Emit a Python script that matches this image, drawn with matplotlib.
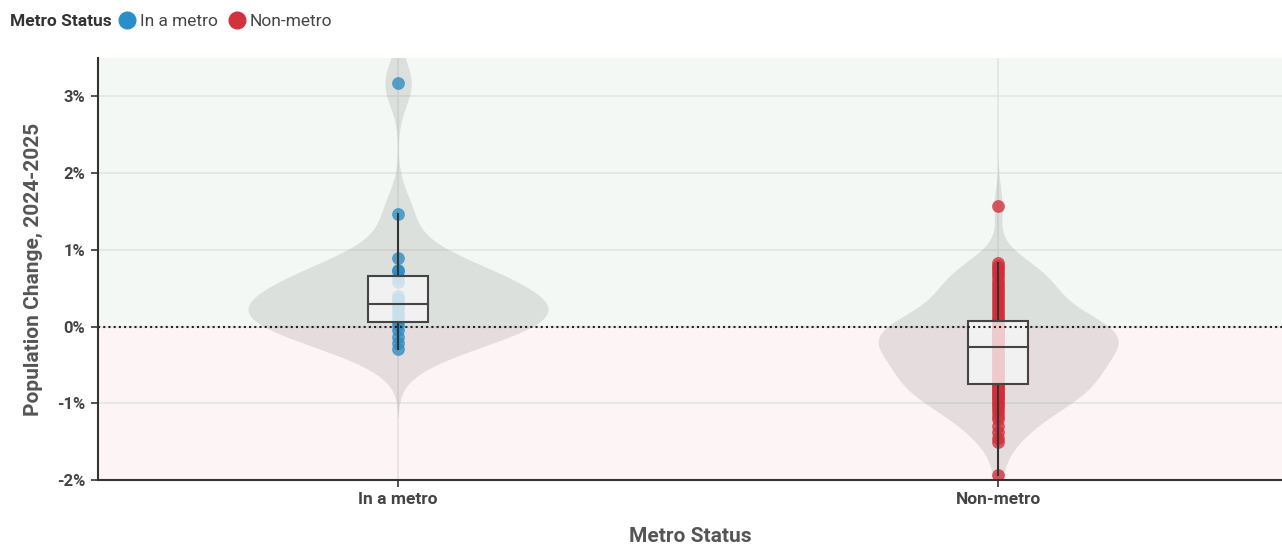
import numpy as np
import matplotlib.pyplot as plt
from matplotlib.lines import Line2D

plt.rcParams['font.family'] = ['Roboto', 'DejaVu Sans']

# county population change 2024-2025 (%), by metro status
categories = ['In a metro', 'Non-metro']
metro = [3.17, 1.47, 0.89, 0.74, 0.72, 0.64, 0.58, 0.40, 0.36, 0.33,
         0.27, 0.24, 0.18, 0.12, 0.07, 0.02, -0.05, -0.13, -0.22, -0.29]
nonmetro = [1.57, 0.83, 0.79, 0.76, 0.72, 0.68, 0.64, 0.60, 0.56, 0.52,
            0.48, 0.44, 0.40, 0.36, 0.32, 0.28, 0.24, 0.20, 0.16, 0.12,
            0.09, 0.07, 0.05, 0.04, 0.02, 0.00, -0.01, -0.03, -0.04, -0.06,
            -0.08, -0.09, -0.11, -0.12, -0.14, -0.16, -0.17, -0.19, -0.20, -0.22,
            -0.24, -0.25, -0.28, -0.30, -0.32, -0.35, -0.37, -0.39, -0.41, -0.44,
            -0.46, -0.48, -0.50, -0.53, -0.55, -0.57, -0.59, -0.62, -0.64, -0.66,
            -0.68, -0.71, -0.74, -0.76, -0.78, -0.80, -0.83, -0.85, -0.87, -0.90,
            -0.92, -0.95, -0.98, -1.01, -1.04, -1.08, -1.12, -1.16, -1.21, -1.30,
            -1.38, -1.45, -1.51, -1.94]
yticks = [-2, -1, 0, 1, 2, 3]

groups = [metro, nonmetro]
colors = ['#2b8cc4', '#d42d37']
bws = [0.3, 0.24]
half_widths = [0.25, 0.2]

fig = plt.figure(figsize=(12.82, 5.46), dpi=100)
ax = fig.add_axes([98 / 1282, 66 / 546, 1 - 98 / 1282, 422 / 546])
ax.set_xlim(-0.5, 1.473)
ax.set_ylim(-2, 3.5)

# green above zero, pink below
ax.axhspan(0, 3.5, color='#f3f8f4', zorder=0)
ax.axhspan(-2, 0, color='#fdf4f5', zorder=0)
for t in yticks:
    ax.axhline(t, color='#e3e6e3', lw=1.2, zorder=1)
for i in range(len(categories)):
    ax.axvline(i, color='#e3e3e3', lw=1.2, zorder=1)

for i, (vals, c, bw, hw) in enumerate(zip(groups, colors, bws, half_widths)):
    v = np.array(vals)
    # gaussian kde for the violin
    ys = np.linspace(v.min() - 3 * bw, v.max() + 3 * bw, 400)
    dens = np.exp(-0.5 * ((ys[:, None] - v[None, :]) / bw) ** 2).sum(axis=1)
    dens = dens / dens.max() * hw
    ax.fill_betweenx(ys, i - dens, i + dens, color='#808080', alpha=0.2, lw=0, zorder=2)

    ax.scatter(np.full(len(v), i), v, s=85, color=c, alpha=0.78, lw=0, zorder=3)

    q1, med, q3 = np.percentile(v, [25, 50, 75])
    iqr = q3 - q1
    lo = v[v >= q1 - 1.5 * iqr].min()
    hi = v[v <= q3 + 1.5 * iqr].max()
    ax.plot([i, i], [lo, q1], color='#333333', lw=1.5, zorder=5)
    ax.plot([i, i], [q3, hi], color='#333333', lw=1.5, zorder=5)
    ax.add_patch(plt.Rectangle((i - 0.05, q1), 0.1, q3 - q1, facecolor='#f7f7f7',
                               alpha=0.78, edgecolor='none', zorder=4))
    ax.add_patch(plt.Rectangle((i - 0.05, q1), 0.1, q3 - q1, facecolor='none',
                               edgecolor='#444444', lw=1.5, zorder=5))
    ax.plot([i - 0.05, i + 0.05], [med, med], color='#444444', lw=1.5, zorder=5)

ax.axhline(0, color='#222222', lw=1.5, ls=(0, (1, 1.5)), zorder=6)

ax.set_yticks(yticks)
ax.set_yticklabels([f'{t}%' for t in yticks], fontsize=12, fontweight='bold', color='#444444')
ax.set_xticks(range(len(categories)))
ax.set_xticklabels(categories, fontsize=12.5, fontweight='bold', color='#444444')
ax.tick_params(axis='both', length=5, width=1.2, color='#333333', pad=4)
for s in ['top', 'right']:
    ax.spines[s].set_visible(False)
for s in ['left', 'bottom']:
    ax.spines[s].set_color('#333333')
    ax.spines[s].set_linewidth(1.5)
    ax.spines[s].set_zorder(7)

ax.set_ylabel('Population Change, 2024-2025', fontsize=15, fontweight='bold',
              color='#555555', labelpad=10)
ax.set_xlabel('Metro Status', fontsize=15, fontweight='bold', color='#555555', labelpad=14)

fig.text(10 / 1282, 1 - 21 / 546, 'Metro Status', fontsize=12.5, fontweight='bold',
         color='#333333', va='center')
handles = [Line2D([], [], marker='o', ls='', markersize=12, color=c) for c in ['#2a8fc9', '#d3313b']]
fig.legend(handles, categories, loc='center left', bbox_to_anchor=(118 / 1282, 1 - 21 / 546),
           ncol=2, frameon=False, fontsize=12.5, handletextpad=0.25, columnspacing=0.6,
           borderaxespad=0, borderpad=0, handlelength=1.0, labelcolor='#444444')

fig.savefig('out.png', dpi=100)
